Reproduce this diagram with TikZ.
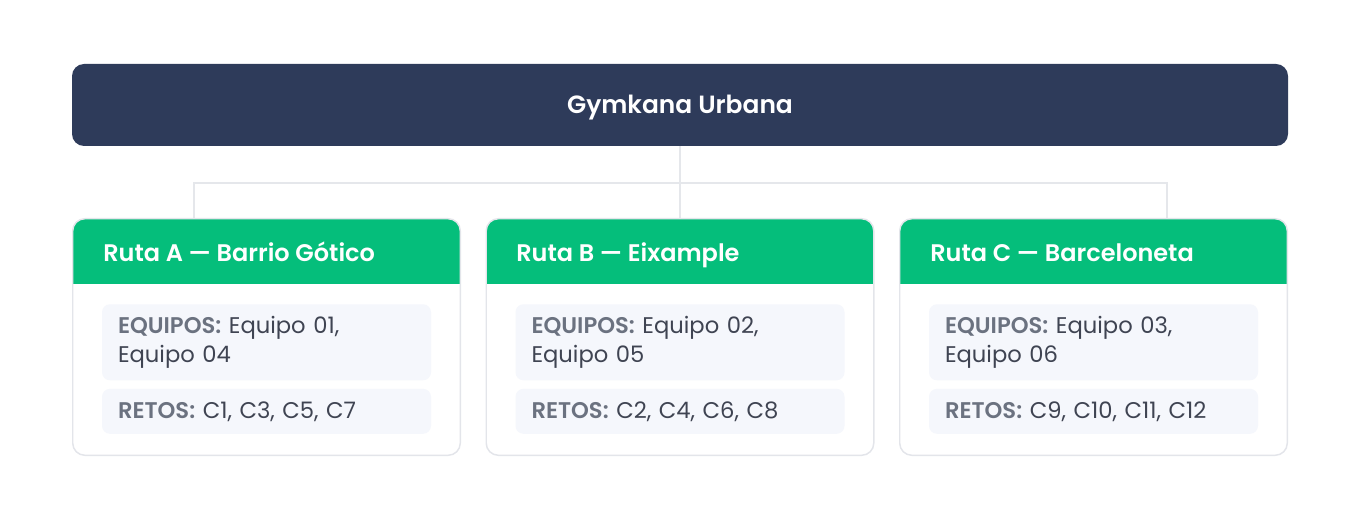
\documentclass[tikz,border=0pt]{standalone}
\usepackage{fontspec}
\setmainfont{Poppins}[BoldFont={* SemiBold}]
\usetikzlibrary{positioning}
\definecolor{navy}{HTML}{2E3B5A}
\definecolor{routegreen}{HTML}{05BE7B}
\definecolor{cardline}{HTML}{E3E5EA}
\definecolor{linkgrey}{HTML}{E5E7EB}
\definecolor{itembg}{HTML}{F5F7FC}
\definecolor{labelgrey}{HTML}{6B7280}
\definecolor{valuetext}{HTML}{3F4452}
\tikzset{
  header/.style={rectangle, rounded corners=9pt, fill=navy, minimum width=912pt, minimum height=61.5pt,
    text=white, text height=13.2pt, text depth=0pt, font=\bfseries\fontsize{18.7}{22}\selectfont},
  card/.style={rectangle, rounded corners=9pt, fill=white, minimum width=290.25pt, minimum height=177pt},
  cardtitle/.style={anchor=west, text=white, inner sep=0pt, text height=12.7pt, text depth=0pt,
    font=\bfseries\fontsize{18}{21}\selectfont},
  item/.style={rectangle, rounded corners=6pt, fill=itembg, text width=222.75pt, inner xsep=12pt, inner ysep=0pt,
    align=left, text=valuetext, font=\fontsize{17}{21.75}\selectfont},
  link/.style={draw=linkgrey, line width=2.2pt},
  rim/.style={draw=cardline, line width=1.1pt, rounded corners=9pt}
}
\newcommand{\lbl}[1]{{\color{labelgrey}\bfseries #1}}

\begin{document}
\begin{tikzpicture}[x=0.75pt,y=-0.75pt]
  \useasboundingbox (0,0) rectangle (1360,520);

  \node[header] (top) at (680,105) {Gymkana Urbana};

  % where the lines come down on the cards
  \coordinate (bus) at (680,183);
  \coordinate (dropA) at (194,219);
  \coordinate (dropC) at (1167,219);

  \node[card] (routeA) at (266.5,337) {};
  \node[card] (routeB) at (680,337) {};
  \node[card] (routeC) at (1093.5,337) {};

  \path[link] (dropA) |- (bus) -| (dropC);
  \path[link] (top) -- (routeB);

  % green heads of the cards
  \begin{scope}
    \clip[rounded corners=9pt] (routeA.north west) rectangle (routeA.south east);
    \fill[routegreen] (routeA.north west) rectangle ([yshift=-48.75pt]routeA.north east);
  \end{scope}
  \begin{scope}
    \clip[rounded corners=9pt] (routeB.north west) rectangle (routeB.south east);
    \fill[routegreen] (routeB.north west) rectangle ([yshift=-48.75pt]routeB.north east);
  \end{scope}
  \begin{scope}
    \clip[rounded corners=9pt] (routeC.north west) rectangle (routeC.south east);
    \fill[routegreen] (routeC.north west) rectangle ([yshift=-48.75pt]routeC.north east);
  \end{scope}
  \path[rim] (routeA.north west) rectangle (routeA.south east);
  \path[rim] (routeB.north west) rectangle (routeB.south east);
  \path[rim] (routeC.north west) rectangle (routeC.south east);

  \node[cardtitle] (titleA) at (103,253) {Ruta A — Barrio Gótico};
  \node[cardtitle] (titleB) at (516,253) {Ruta B — Eixample};
  \node[cardtitle] (titleC) at (930,253) {Ruta C — Barceloneta};

  \node[item, minimum height=57pt, anchor=north] (teamsA) at (266.5,304) {\lbl{EQUIPOS:} Equipo 01,\\Equipo 04};
  \node[item, minimum height=33.75pt, below=6pt of teamsA] (tasksA) {\lbl{RETOS:} C1, C3, C5, C7};

  \node[item, minimum height=57pt, anchor=north] (teamsB) at (680,304) {\lbl{EQUIPOS:} Equipo 02,\\Equipo 05};
  \node[item, minimum height=33.75pt, below=6pt of teamsB] (tasksB) {\lbl{RETOS:} C2, C4, C6, C8};

  \node[item, minimum height=57pt, anchor=north] (teamsC) at (1093.5,304) {\lbl{EQUIPOS:} Equipo 03,\\Equipo 06};
  \node[item, minimum height=33.75pt, below=6pt of teamsC] (tasksC) {\lbl{RETOS:} C9, C10, C11, C12};
\end{tikzpicture}
\end{document}
